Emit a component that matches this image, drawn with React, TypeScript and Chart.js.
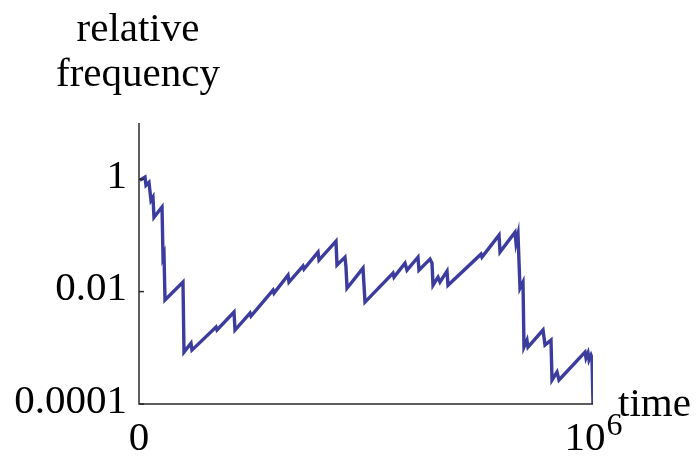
import React, { useEffect, useRef } from "react";
import { Chart, registerables } from "chart.js";

Chart.register(...registerables);

const timeValues: number[] = [
  2000, 13200, 15400, 22000, 26400, 30800, 33000, 50700, 52900, 55100, 57300,
  96900, 99100, 114500, 116700, 169600, 171800, 209300, 211500, 244500, 246700,
  295200, 297400, 328200, 330400, 361200, 363400, 394300, 396500, 433900, 436100,
  453700, 455900, 458200, 493400, 497800, 559500, 561700, 585900, 590300, 614500,
  616700, 641000, 645400, 647600, 658600, 663000, 678400, 680600, 753300, 755500,
  793000, 795200, 828200, 830400, 834800, 839200, 845800, 848000, 854600, 856800,
  889900, 894300, 907500, 909700, 920700, 925100, 982400, 984600, 989000, 991200,
  995600, 997800, 1000000,
];

const frequencyValues: number[] = [
  0.96, 1.09, 0.78, 0.88, 0.42, 0.48, 0.21, 0.32, 0.041, 0.046, 0.0071,
  0.0148, 0.00084, 0.00121, 0.00091, 0.00234, 0.00207, 0.00432, 0.00207, 0.00415, 0.00367,
  0.0106, 0.0094, 0.0196, 0.0148, 0.0284, 0.0251, 0.0504, 0.0363, 0.079, 0.0296,
  0.041, 0.0273, 0.0115, 0.0262, 0.0065, 0.0213, 0.0181, 0.0321, 0.0241, 0.041,
  0.0241, 0.0378, 0.0321, 0.013, 0.0181, 0.0148, 0.0231, 0.013, 0.0464, 0.041,
  0.101, 0.0504, 0.114, 0.0728, 0.105, 0.0115, 0.0148, 0.00103, 0.00137, 0.00103,
  0.00207, 0.00112, 0.00137, 0.000267, 0.00037, 0.000267, 0.00084, 0.00066, 0.00081, 0.00061,
  0.00074, 0.00066, 0.0001,
];

const yTickValues: number[] = [1, 0.01, 0.0001];
const yTickLabels: string[] = ["1", "0.01", "0.0001"];
const xTickValues: number[] = [0, 1000000];
const xTickBase: string[] = ["0", "10"];
const xTickSup: string[] = ["", "6"];

const FONT = '"Liberation Serif", "Times New Roman", serif';

export default function App() {
  const ref = useRef<HTMLCanvasElement | null>(null);

  useEffect(() => {
    if (!ref.current) return;
    const axesPlugin = {
      id: "customAxes",
      afterDatasetsDraw(chart: any) {
        const { ctx, chartArea } = chart;
        const xs = chart.scales.x;
        const ys = chart.scales.y;
        ctx.save();
        ctx.strokeStyle = "#2a2a2a";
        ctx.lineWidth = 1.5;
        ctx.beginPath();
        ctx.moveTo(chartArea.left, chartArea.top);
        ctx.lineTo(chartArea.left, chartArea.bottom);
        ctx.lineTo(chartArea.right, chartArea.bottom);
        ctx.stroke();
        ctx.fillStyle = "#000";
        ctx.font = `41px ${FONT}`;
        ctx.textAlign = "right";
        ctx.textBaseline = "middle";
        yTickValues.forEach((v, i) => {
          const py = ys.getPixelForValue(v);
          ctx.beginPath();
          ctx.moveTo(chartArea.left, py);
          ctx.lineTo(chartArea.left + 5, py);
          ctx.stroke();
          ctx.fillText(yTickLabels[i], chartArea.left - 12, py - 2);
        });
        ctx.textBaseline = "alphabetic";
        xTickValues.forEach((v, i) => {
          const px = xs.getPixelForValue(v);
          ctx.font = `41px ${FONT}`;
          const baseW = ctx.measureText(xTickBase[i]).width;
          let supW = 0;
          if (xTickSup[i]) {
            ctx.font = `32px ${FONT}`;
            supW = ctx.measureText(xTickSup[i]).width;
          }
          const total = baseW + supW;
          const start = px - total / 2;
          ctx.textAlign = "left";
          ctx.font = `41px ${FONT}`;
          ctx.fillText(xTickBase[i], start, chartArea.bottom + 46);
          if (xTickSup[i]) {
            ctx.font = `32px ${FONT}`;
            ctx.fillText(xTickSup[i], start + baseW + 1, chartArea.bottom + 31);
          }
        });
        ctx.font = `41px ${FONT}`;
        ctx.textAlign = "left";
        ctx.fillText("time", chartArea.right + 25, chartArea.bottom + 12);
        ctx.textAlign = "center";
        ctx.fillText("relative", 138, 41);
        ctx.fillText("frequency", 138, 86);
        ctx.restore();
      },
    };

    const chart = new Chart(ref.current, {
      type: "line",
      data: {
        datasets: [
          {
            data: timeValues.map((t, i) => ({ x: t, y: frequencyValues[i] })),
            borderColor: "rgb(60,60,158)",
            borderWidth: 3.4,
            pointRadius: 0,
            fill: false,
            tension: 0,
          },
        ],
      },
      options: {
        animation: false,
        responsive: false,
        layout: { padding: { left: 139, top: 123, right: 106, bottom: 57 } },
        plugins: { legend: { display: false }, tooltip: { enabled: false } },
        scales: {
          x: { type: "linear", min: 0, max: 1000000, display: false },
          y: { type: "logarithmic", min: 0.0001, max: 10, display: false },
        },
      },
      plugins: [axesPlugin],
    });
    return () => chart.destroy();
  }, []);

  return (
    <div style={{ position: "absolute", left: 0, top: 0, width: 699, height: 461, background: "#fff" }}>
      <canvas ref={ref} width={699} height={461} style={{ display: "block" }} />
    </div>
  );
}
